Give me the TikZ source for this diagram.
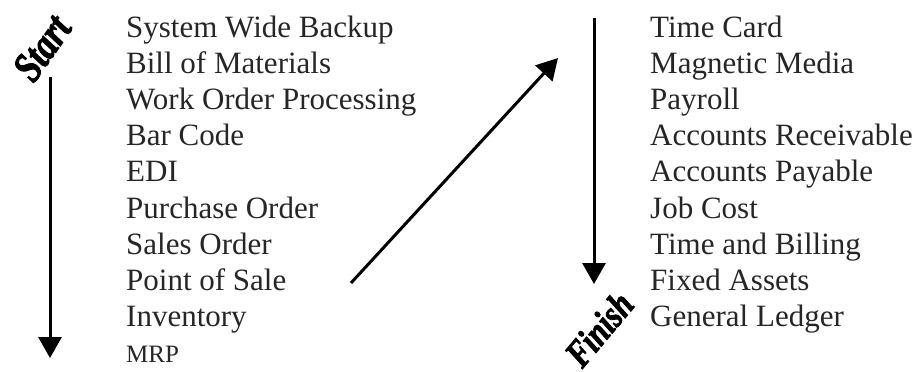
\documentclass[tikz,border=0pt]{standalone}
\usepackage{fontspec}
\setmainfont{Liberation Serif}
\newfontfamily\tagfont[FakeBold=2.5]{Liberation Serif Bold Italic}
\usetikzlibrary{arrows.meta}
\begin{document}
\begin{tikzpicture}[x=1pt,y=-1pt,
  item/.style={anchor=base west,inner sep=0pt,text=black!85,
    font=\fontsize{31}{36}\selectfont},
  small/.style={item,font=\fontsize{25}{30}\selectfont},
  flow/.style={line width=3pt,-{Triangle[length=21pt,width=23pt]}},
  tag/.style={inner sep=0pt,font=\tagfont\fontsize{38}{38}\selectfont}]
\useasboundingbox (0,0) rectangle (916,372);
% left column
\foreach \t [count=\i from 0] in {System Wide Backup,Bill of Materials,
  Work Order Processing,Bar Code,EDI,Purchase Order,Sales Order,
  Point of Sale,Inventory}
  \node[item] (l\i) at (126,37.5+36.1*\i) {\t};
\node[small] (l9) at (126,362) {MRP};
% right column
\foreach \t [count=\i from 0] in {Time Card,Magnetic Media,Payroll,
  Accounts Receivable,Accounts Payable,Job Cost,Time and Billing,
  Fixed Assets,General Ledger}
  \node[item] (r\i) at (650,37.5+36.1*\i) {\t};
% start / finish tags
\node[tag,rotate=55,xscale=0.8,scale=1.12] (start) at (42,48) {Start};
\node[tag,rotate=50,xscale=0.8] (finish) at (599,329) {Finish};
% arrows
\coordinate (a1) at (50,77);
\coordinate (a2) at (50,358);
\coordinate (b1) at (351,283);
\coordinate (b2) at (558,58);
\coordinate (c1) at (594,18);
\coordinate (c2) at (594,284);
\draw[flow] (a1) -- (a2);
\draw[flow] (b1) -- (b2);
\draw[flow] (c1) -- (c2);
\end{tikzpicture}
\end{document}
